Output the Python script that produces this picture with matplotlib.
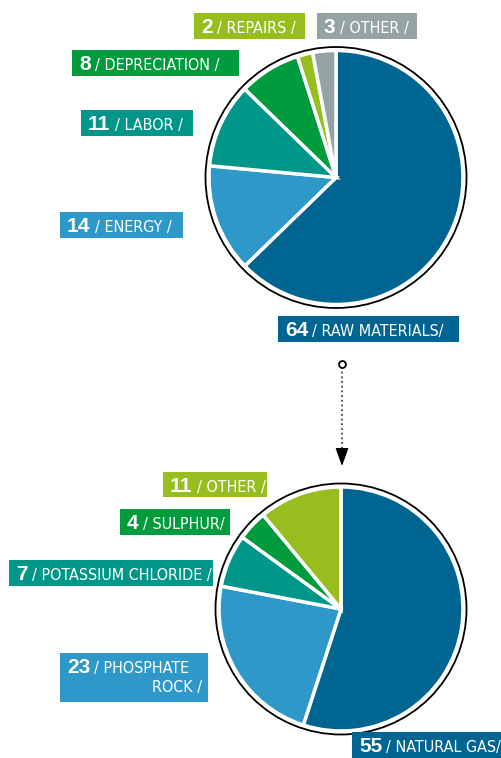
import matplotlib
matplotlib.use("Agg")
import matplotlib.pyplot as plt
from matplotlib import font_manager
from matplotlib.font_manager import FontProperties
from matplotlib.patches import Circle, Rectangle

# production cost structure (top pie)
cost_values = [64, 14, 11, 8, 2, 3]
cost_labels = ["/ RAW MATERIALS/", "/ ENERGY /", "/ LABOR /", "/ DEPRECIATION /", "/ REPAIRS /", "/ OTHER /"]
cost_colors = ["#006591", "#2e98c8", "#00968a", "#009b3d", "#97bd1f", "#95a3a4"]

# raw materials breakdown (bottom pie)
raw_values = [55, 23, 7, 4, 11]
raw_labels = ["/ NATURAL GAS/", "/ PHOSPHATE\nROCK /", "/ POTASSIUM CHLORIDE /", "/ SULPHUR/", "/ OTHER /"]
raw_colors = ["#006591", "#2e98c8", "#00968a", "#009b3d", "#97bd1f"]

# label boxes in pixels: left, top, right, bottom
cost_boxes = [(278, 316, 459, 342), (60, 212, 183, 238), (81, 110, 193, 136),
              (72, 50, 239, 76), (194, 13, 305, 39), (317, 13, 417, 39)]
raw_boxes = [(352, 732, 502, 758), (60, 653, 208, 702), (9, 560, 213, 586),
             (120, 509, 230, 535), (163, 472, 267, 497)]


def pick_narrow():
    # look for a condensed sans face, otherwise fall back to Roboto
    entries = font_manager.fontManager.ttflist
    for key in ["Liberation Sans Narrow", "Noto Sans", "Open Sans", "DejaVu Sans"]:
        for f in entries:
            stretch = str(f.stretch).lower()
            narrow = ("condensed" in stretch and "extra" not in stretch
                      and "ultra" not in stretch) or "Narrow" in f.name
            if (f.name.startswith(key) and narrow and f.style == "normal"
                    and str(f.weight) in ("400", "normal", "regular")):
                return FontProperties(fname=f.fname, size=11.5)
    return FontProperties(family="Roboto", size=10.5)


LABEL_FONT = pick_narrow()
NUM_FONT = FontProperties(family="Liberation Sans", weight="bold", size=15)

W, H = 502, 758
fig = plt.figure(figsize=(W / 100, H / 100), dpi=100)
ax = fig.add_axes([0, 0, 1, 1])


def draw_pie(values, colors, center, r):
    # y axis runs downward, so start at -90 and go counterclockwise in data
    # space to get a clockwise pie starting at 12 o'clock on screen
    ax.pie(values, colors=colors, startangle=-90, counterclock=True,
           center=center, radius=r,
           wedgeprops=dict(edgecolor="white", linewidth=2.5))
    ax.add_patch(Circle(center, r + 3.5, fill=False, edgecolor="black", lw=1.3))


def draw_label(num, text, color, box):
    left, top, right, bottom = box
    ax.add_patch(Rectangle((left, top), right - left, bottom - top,
                           facecolor=color, edgecolor="none", zorder=4))
    base = top + 20
    lines = text.split("\n")
    n = ax.text(left + 7, base, str(num), fontproperties=NUM_FONT,
                color="white", va="baseline", zorder=5)
    ax.annotate(lines[0], xy=(1, base), xycoords=(n, "data"),
                xytext=(3, 0), textcoords="offset points",
                fontproperties=LABEL_FONT, color="white",
                va="baseline", ha="left", zorder=5)
    for i, extra in enumerate(lines[1:]):
        ax.text(right - 6, base + 19 * (i + 1), extra, fontproperties=LABEL_FONT,
                color="white", va="baseline", ha="right", zorder=5)


draw_pie(cost_values, cost_colors, (336, 177.5), 127)
draw_pie(raw_values, raw_colors, (341, 609), 122)

for v, t, c, b in zip(cost_values, cost_labels, cost_colors, cost_boxes):
    draw_label(v, t, c, b)
for v, t, c, b in zip(raw_values, raw_labels, raw_colors, raw_boxes):
    draw_label(v, t, c, b)

# connector from top pie to bottom pie
ax.plot([342, 342], [367, 452], color="#444444", lw=1.3, linestyle=(0, (1, 1.6)))
ax.plot([342], [364], marker="o", markersize=5, markerfacecolor="white",
        markeredgecolor="black", markeredgewidth=1.3)
ax.annotate("", xy=(342, 466), xytext=(342, 449),
            arrowprops=dict(arrowstyle="-|>,head_length=1.1,head_width=0.4",
                            color="black", lw=1, shrinkA=0, shrinkB=0))

ax.set_xlim(0, W)
ax.set_ylim(H, 0)
ax.set_aspect("equal")
ax.axis("off")

fig.savefig("out.png", dpi=100)
